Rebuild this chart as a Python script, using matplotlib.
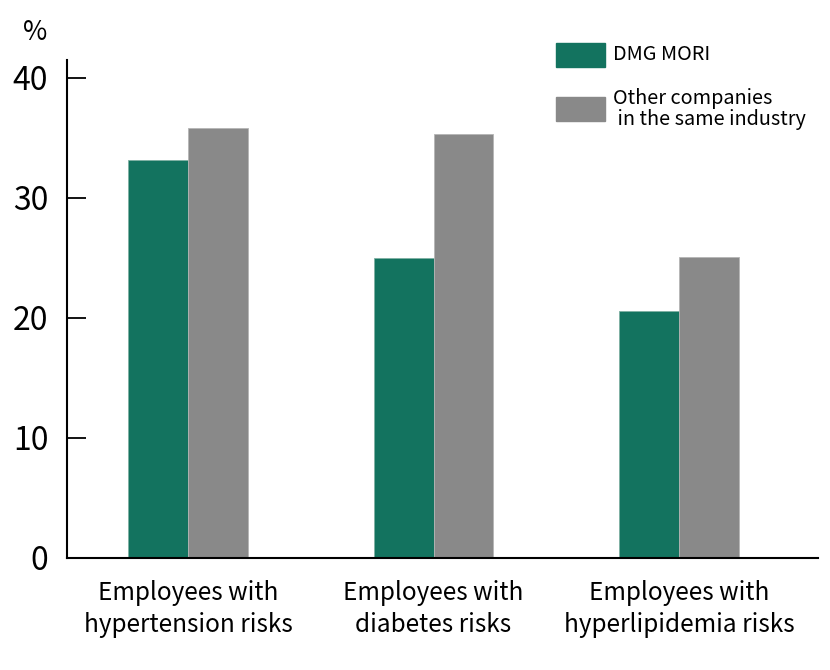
import matplotlib
matplotlib.use("Agg")
import matplotlib.pyplot as plt
from matplotlib.patches import Rectangle
import numpy as np

plt.rcParams['font.family'] = ['Noto Sans CJK JP', 'DejaVu Sans']

categories = ["Employees with\nhypertension risks",
              "Employees with\ndiabetes risks",
              "Employees with\nhyperlipidemia risks"]
series_names = ["DMG MORI", "Other companies\n in the same industry"]
dmg_mori = [33.2, 25.0, 20.6]
other_companies = [35.8, 35.3, 25.1]
y_ticks = [0, 10, 20, 30, 40]

GREEN = "#13735f"
GRAY = "#898989"

fig = plt.figure(figsize=(8.3, 6.7), dpi=100)
ax = fig.add_axes([67 / 830, 1 - 558 / 670, (818 - 67) / 830, (558 - 60) / 670])

x = np.arange(len(categories))
w = 0.244
ax.bar(x - w / 2, dmg_mori, w, color=GREEN, edgecolor="#7fb0a3", linewidth=0.6)
ax.bar(x + w / 2, other_companies, w, color=GRAY, edgecolor="#b5b5b5", linewidth=0.6)

ax.set_xlim(-0.493, 2.566)
ax.set_ylim(0, 41.5)
ax.set_yticks(y_ticks)
ax.set_yticklabels([str(t) for t in y_ticks], fontsize=23)
ax.set_xticks(x)
ax.set_xticklabels(categories, fontsize=17.5, linespacing=1.3)
ax.tick_params(axis='y', direction='in', length=14, width=1.3, pad=13.5)
ax.tick_params(axis='x', length=0, pad=16)
for s in ['top', 'right']:
    ax.spines[s].set_visible(False)
for s in ['left', 'bottom']:
    ax.spines[s].set_linewidth(1.5)

fig.text(35 / 830, 1 - 32 / 670, "%", fontsize=19, ha='center', va='center')

# legend drawn by hand
legend_colors = [GREEN, GRAY]
legend_y = [55, 109]
for name, col, yc in zip(series_names, legend_colors, legend_y):
    fig.add_artist(Rectangle((556 / 830, 1 - (yc + 12) / 670), 49 / 830, 24 / 670,
                             transform=fig.transFigure, color=col))
    fig.text(613 / 830, 1 - yc / 670, name, fontsize=14.3, ha='left', va='center',
             linespacing=1.05)

fig.savefig("out.png", dpi=100)
